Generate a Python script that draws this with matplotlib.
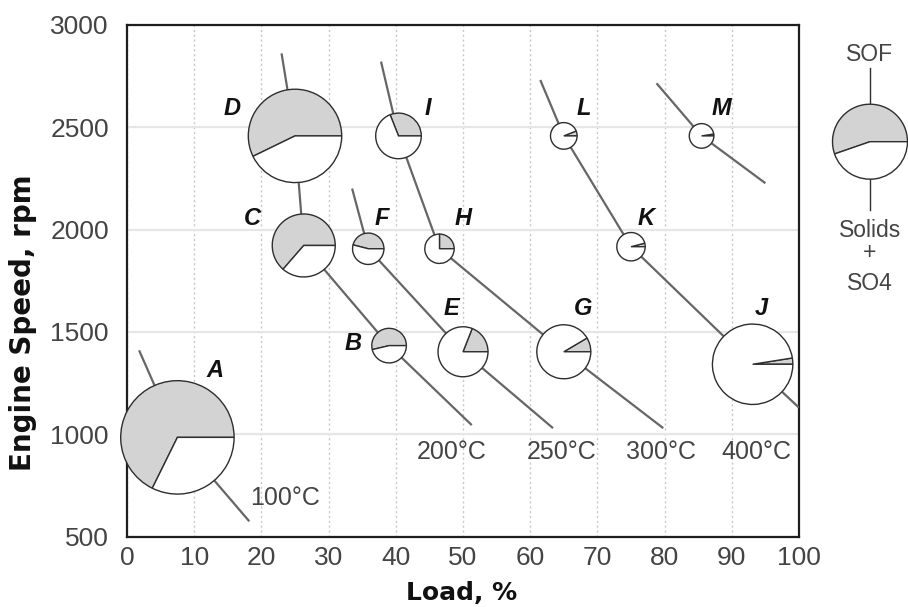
import matplotlib
matplotlib.use("Agg")
import matplotlib.pyplot as plt
from matplotlib.patches import Wedge
from matplotlib.transforms import Affine2D, ScaledTranslation

# ---- operating points (load %, engine speed rpm) ----
point_names = ["A", "B", "C", "D", "E", "F", "G", "H", "I", "J", "K", "L", "M"]
load_pct = [7.5, 39.0, 26.3, 25.0, 50.0, 35.9, 65.0, 46.5, 40.4, 93.1, 75.0, 65.0, 85.5]
speed_rpm = [985, 1433, 1922, 2457, 1403, 1906, 1403, 1906, 2457, 1342, 1916, 2457, 2457]
# share of soluble organic fraction in total particulate
sof_share = [0.677, 0.537, 0.636, 0.572, 0.19, 0.46, 0.085, 0.25, 0.31, 0.025, 0.04, 0.06, 0.025]
# pie radius (pixels) ~ total particulate emission
pm_radius = [56.7, 17.3, 31.5, 46.7, 25.0, 15.7, 27.0, 14.7, 22.8, 40.2, 14.2, 13.3, 12.3]

# letter label positions
label_load = [13.1, 33.6, 18.7, 15.6, 48.3, 37.9, 67.9, 50.0, 44.8, 94.4, 77.3, 67.9, 88.5]
label_speed = [1311, 1444, 2055, 2592, 1615, 2055, 1615, 2055, 2592, 1615, 2055, 2592, 2592]

# ---- exhaust temperature lines ----
iso_100_x = [1.8, 7.5, 18.2]
iso_100_y = [1410, 985, 575]
iso_200_x = [23.0, 25.0, 26.3, 39.0, 51.3]
iso_200_y = [2860, 2457, 1922, 1433, 1045]
iso_250_x = [33.5, 35.9, 50.0, 63.4]
iso_250_y = [2200, 1906, 1403, 1030]
iso_300_x = [37.8, 40.4, 46.5, 65.0, 79.8]
iso_300_y = [2820, 2457, 1906, 1403, 1030]
iso_400_x = [61.5, 65.0, 75.0, 93.1, 100.0]
iso_400_y = [2730, 2457, 1916, 1342, 1130]
iso_m_x = [78.8, 85.5, 95.0]
iso_m_y = [2714, 2457, 2226]

temp_labels = ["100°C", "200°C", "250°C", "300°C", "400°C"]
temp_label_x = [23.5, 48.3, 64.7, 79.5, 93.7]
temp_label_y = [687, 915, 915, 915, 915]

x_ticks = list(range(0, 101, 10))
y_ticks = [500, 1000, 1500, 2000, 2500, 3000]

SOF_GRAY = "#d3d3d3"
EDGE = "#2e2e2e"
LINE = "#666666"
TXT = "#444444"

fig = plt.figure(figsize=(9.08, 6.07), dpi=100)
W, H = 908, 607
ax = fig.add_axes([127 / W, 1 - 536.7 / H, (799 - 127) / W, (536.7 - 24.7) / H])
ax.set_xlim(0, 100)
ax.set_ylim(500, 3000)
ax.set_xticks(x_ticks)
ax.set_yticks(y_ticks)
ax.xaxis.grid(True, linestyle=(0, (1.5, 2)), color="#c8c8c8", linewidth=1.0)
ax.yaxis.grid(True, linestyle="-", color="#e6e6e6", linewidth=1.6)
ax.set_axisbelow(True)
for s in ax.spines.values():
    s.set_color("#1e1e1e")
    s.set_linewidth(1.6)
ax.tick_params(length=0, labelsize=19, labelcolor=TXT)
ax.tick_params(axis="y", pad=13)
ax.tick_params(axis="x", pad=7)
for lab in ax.get_xticklabels() + ax.get_yticklabels():
    lab.set_fontfamily("Liberation Sans")


def draw_pie(target, x, y, r_px, frac, z=4):
    trans = (Affine2D().scale(r_px / fig.dpi) + fig.dpi_scale_trans
             + ScaledTranslation(x, y, target.transData))
    a = frac * 360.0
    for t1, t2, fc in [(0, a, SOF_GRAY), (a, 360, "white")]:
        w = Wedge((0, 0), 1, t1, t2, facecolor=fc, edgecolor=EDGE,
                  linewidth=1.0, transform=trans, zorder=z, clip_on=False)
        target.add_patch(w)


for xs, ys in [(iso_100_x, iso_100_y), (iso_200_x, iso_200_y), (iso_250_x, iso_250_y),
               (iso_300_x, iso_300_y), (iso_400_x, iso_400_y), (iso_m_x, iso_m_y)]:
    ax.plot(xs, ys, color=LINE, linewidth=1.6, zorder=3, solid_capstyle="butt")

for x, y, r, f in zip(load_pct, speed_rpm, pm_radius, sof_share):
    draw_pie(ax, x, y, r, f)

for name, lx, ly in zip(point_names, label_load, label_speed):
    ax.text(lx, ly, name, ha="center", va="center", fontsize=17, fontweight="bold",
            fontstyle="italic", family="Liberation Sans", color="#111111", zorder=5)

for t, tx, ty in zip(temp_labels, temp_label_x, temp_label_y):
    ax.text(tx, ty, t, ha="center", va="center", fontsize=18, color=TXT,
            family="Liberation Sans", zorder=5)

fig.text(462 / W, 1 - 600 / H, "Load, %", ha="center", va="baseline",
         fontsize=18, fontweight="bold", color="#111111")
fig.text(31.5 / W, 1 - 323 / H, "Engine Speed, rpm", ha="center", va="baseline",
         rotation=90, rotation_mode="anchor", fontsize=20, fontweight="bold",
         color="#111111")

# ---- key pie on the right ----
key = fig.add_axes([0, 0, 1, 1], zorder=5)
key.set_xlim(0, W)
key.set_ylim(H, 0)
key.axis("off")
key_x, key_y, key_r, key_frac = 870, 141.7, 37.5, 0.553
key.plot([key_x, key_x], [68, key_y - key_r], color=EDGE, linewidth=1.0)
key.plot([key_x, key_x], [key_y + key_r, 210], color=EDGE, linewidth=1.0)
draw_pie(key, key_x, key_y, key_r, key_frac)
key.text(key_x, 61, "SOF", ha="center", va="baseline", fontsize=16.5,
         color=TXT, family="Liberation Sans")
key.text(key_x, 237, "Solids", ha="center", va="baseline", fontsize=16.5,
         color=TXT, family="Liberation Sans")
key.text(key_x, 259, "+", ha="center", va="baseline", fontsize=16.5,
         color=TXT, family="Liberation Sans")
key.text(key_x, 290, "SO4", ha="center", va="baseline", fontsize=16.5,
         color=TXT, family="Liberation Sans")

fig.savefig("out.png", dpi=100)
